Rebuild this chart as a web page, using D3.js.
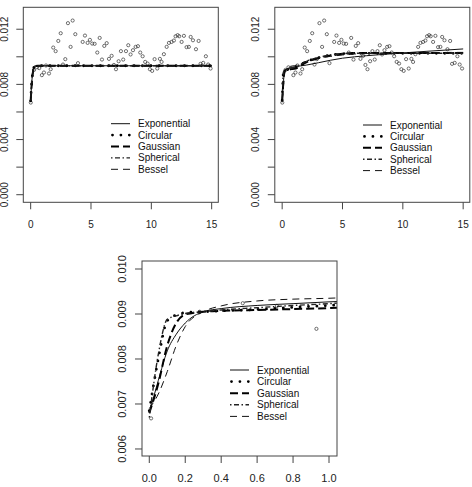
<!DOCTYPE html>
<html>
<head>
<meta charset="utf-8">
<script src="https://cdn.jsdelivr.net/npm/d3@7"></script>
<style>
  body { margin: 0; background: #fff; }
  svg { display: block; font-family: "Liberation Sans", Arial, sans-serif; }
</style>
</head>
<body>
<svg width="472" height="487"></svg>
<script>
// empirical semivariogram (lag distance, semivariance)
var lagDist = [0.01, 0.28, 0.52, 0.71, 0.93, 1.10, 1.27, 1.52, 1.66, 1.87,
  2.07, 2.29, 2.49, 2.68, 2.87, 3.09, 3.31, 3.48, 3.70, 3.92,
  4.31, 4.50, 4.72, 4.91, 5.10, 5.30, 5.52, 5.72, 5.91, 6.10,
  6.30, 6.49, 6.71, 6.90, 7.07, 7.29, 7.48, 7.67, 7.90, 8.09,
  8.28, 8.48, 8.70, 8.89, 9.08, 9.28, 9.49, 9.69, 9.88, 10.07,
  10.27, 10.49, 10.71, 10.85, 11.04, 11.27, 11.46, 11.68, 11.87, 12.01,
  12.18, 12.31, 12.51, 12.70, 12.92, 13.11, 13.26, 13.45, 13.70, 13.92,
  14.08, 14.30, 14.52, 14.71, 14.91];
var gammaObs = [0.00668, 0.00905, 0.00924, 0.00918, 0.00867, 0.00886, 0.00937, 0.00879, 0.00910, 0.01067,
  0.01041, 0.01115, 0.01171, 0.00944, 0.00983, 0.01244, 0.01072, 0.01263, 0.01164, 0.00954,
  0.01108, 0.01154, 0.01101, 0.01123, 0.01096, 0.01094, 0.01031, 0.01137, 0.00980, 0.01079,
  0.01099, 0.00985, 0.01007, 0.00941, 0.00910, 0.00968, 0.01041, 0.00980, 0.01041, 0.01084,
  0.01017, 0.01048, 0.01072, 0.01077, 0.01031, 0.01004, 0.00963, 0.00951, 0.00910, 0.00898,
  0.00983, 0.00915, 0.00985, 0.00963, 0.01019, 0.01072, 0.01101, 0.01108, 0.01118, 0.01149,
  0.01157, 0.01149, 0.01108, 0.01152, 0.01070, 0.01072, 0.01144, 0.01120, 0.01055, 0.01115,
  0.00949, 0.00956, 0.01004, 0.00944, 0.00915];

var modelNames = ["Exponential", "Circular", "Gaussian", "Spherical", "Bessel"];

// fitted models, first fit (top left)
var fitDistA = [0, 0.1, 0.2, 0.3, 0.4, 0.6, 15];
var expA = [0.00680, 0.00825, 0.00898, 0.00926, 0.00933, 0.00935, 0.00935];
var cirA = [0.00680, 0.00830, 0.00902, 0.00928, 0.00934, 0.00935, 0.00935];
var gauA = [0.00680, 0.00815, 0.00895, 0.00925, 0.00933, 0.00935, 0.00935];
var sphA = [0.00680, 0.00832, 0.00903, 0.00929, 0.00934, 0.00935, 0.00935];
var besA = [0.00680, 0.00820, 0.00896, 0.00926, 0.00933, 0.00935, 0.00935];

// fitted models, second fit (top right, zoomed below)
var fitDistB = [0, 0.05, 0.1, 0.15, 0.2, 0.3, 0.4, 0.6, 0.8, 1.0, 2, 3, 4, 5, 6, 8, 10, 12, 15];
var expB = [0.00680, 0.00752, 0.00818, 0.00855, 0.00880, 0.00905, 0.00912, 0.00919, 0.00923, 0.00927,
  0.00940, 0.00957, 0.00975, 0.00990, 0.01000, 0.01015, 0.01028, 0.01040, 0.01057];
var cirB = [0.00685, 0.00800, 0.00885, 0.00898, 0.00903, 0.00905, 0.00907, 0.00910, 0.00915, 0.00919,
  0.00965, 0.00993, 0.01012, 0.01022, 0.01025, 0.01025, 0.01025, 0.01025, 0.01025];
var gauB = [0.00680, 0.00745, 0.00830, 0.00880, 0.00899, 0.00905, 0.00907, 0.00909, 0.00911, 0.00913,
  0.00960, 0.00990, 0.01010, 0.01022, 0.01027, 0.01028, 0.01028, 0.01028, 0.01028];
var sphB = [0.00670, 0.00810, 0.00888, 0.00896, 0.00901, 0.00905, 0.00909, 0.00914, 0.00919, 0.00923,
  0.00968, 0.00996, 0.01013, 0.01023, 0.01026, 0.01026, 0.01026, 0.01026, 0.01026];
var besB = [0.00690, 0.00722, 0.00772, 0.00830, 0.00872, 0.00905, 0.00918, 0.00929, 0.00933, 0.00935,
  0.00968, 0.00990, 0.01003, 0.01013, 0.01020, 0.01026, 0.01029, 0.01031, 0.01032];

var xTicksTop = [0, 5, 10, 15];
var yTicksTop = [0, 0.002, 0.004, 0.006, 0.008, 0.010, 0.012];
var yLabelsTop = [0, 0.004, 0.008, 0.012];
var xTicksBottom = [0, 0.2, 0.4, 0.6, 0.8, 1.0];
var yTicksBottom = [0.006, 0.007, 0.008, 0.009, 0.010];

// line style per model
var styles = [
  { dash: null, width: 1, color: "#111", cap: "butt" },
  { dash: "0.01,8.4", width: 2.8, color: "#000", cap: "round" },
  { dash: "8,4", width: 2, color: "#000", cap: "butt" },
  { dash: "1.5,2.5,5,2.5", width: 1.4, color: "#222", cap: "butt" },
  { dash: "7,5", width: 1, color: "#111", cap: "butt" }
];

var svg = d3.select("svg");

function drawPanel(p, idx) {
  var x = d3.scaleLinear().domain(p.xDomain).range([p.left, p.left + p.w]);
  var y = d3.scaleLinear().domain(p.yDomain).range([p.top + p.h, p.top]);
  var g = svg.append("g");

  g.append("clipPath").attr("id", "clip" + idx)
    .append("rect")
    .attr("x", p.left).attr("y", p.top).attr("width", p.w).attr("height", p.h);

  var plot = g.append("g").attr("clip-path", "url(#clip" + idx + ")");

  // points
  plot.selectAll("circle")
    .data(d3.range(lagDist.length))
    .enter().append("circle")
    .attr("cx", function(i) { return x(lagDist[i]); })
    .attr("cy", function(i) { return y(gammaObs[i]); })
    .attr("r", 1.6)
    .attr("fill", "none")
    .attr("stroke", "#333")
    .attr("stroke-width", 0.7);

  // fitted lines
  p.fits.forEach(function(vals, m) {
    var line = d3.line()
      .x(function(d, i) { return x(p.fitDist[i]); })
      .y(function(d) { return y(d); })
      .curve(d3.curveMonotoneX);
    plot.append("path")
      .attr("d", line(vals))
      .attr("fill", "none")
      .attr("stroke", styles[m].color)
      .attr("stroke-width", styles[m].width)
      .attr("stroke-dasharray", styles[m].dash)
      .attr("stroke-linecap", styles[m].cap);
  });

  // box
  g.append("rect")
    .attr("x", p.left).attr("y", p.top).attr("width", p.w).attr("height", p.h)
    .attr("fill", "none").attr("stroke", "#444").attr("stroke-width", 1);

  // x ticks
  g.selectAll(".xt").data(p.xTicks).enter().append("line")
    .attr("x1", function(d) { return x(d); }).attr("x2", function(d) { return x(d); })
    .attr("y1", p.top + p.h).attr("y2", p.top + p.h + 7)
    .attr("stroke", "#444");
  g.selectAll(".xl").data(p.xTicks).enter().append("text")
    .attr("x", function(d) { return x(d); })
    .attr("y", p.top + p.h + 22)
    .attr("text-anchor", "middle")
    .attr("dominant-baseline", "central")
    .attr("font-size", p.tickFont)
    .attr("fill", "#222")
    .text(p.xFormat);

  // y ticks
  g.selectAll(".yt").data(p.yTicks).enter().append("line")
    .attr("x1", p.left - 7).attr("x2", p.left)
    .attr("y1", function(d) { return y(d); }).attr("y2", function(d) { return y(d); })
    .attr("stroke", "#444");
  g.selectAll(".yl").data(p.yLabels).enter().append("text")
    .attr("transform", function(d) {
      return "translate(" + (p.left - p.yLabOff) + "," + y(d) + ") rotate(-90)";
    })
    .attr("text-anchor", "middle")
    .attr("dominant-baseline", "central")
    .attr("font-size", p.tickFont)
    .attr("fill", "#222")
    .text(d3.format(".3f"));

  // legend
  var leg = g.append("g");
  modelNames.forEach(function(name, m) {
    var ly = p.legY + m * p.legStep;
    leg.append("line")
      .attr("x1", p.legX + (m === 1 ? 1.5 : 0)).attr("x2", p.legX + 19)
      .attr("y1", ly).attr("y2", ly)
      .attr("stroke", styles[m].color)
      .attr("stroke-width", styles[m].width)
      .attr("stroke-dasharray", styles[m].dash)
      .attr("stroke-linecap", styles[m].cap);
    leg.append("text")
      .attr("x", p.legX + 27).attr("y", ly)
      .attr("dominant-baseline", "central")
      .attr("font-size", 10)
      .attr("fill", "#111")
      .text(name);
  });
}

var panels = [
  { left: 23.3, top: 7.3, w: 195, h: 195, xDomain: [-0.61, 15.55], yDomain: [-0.00055, 0.01359],
    xTicks: xTicksTop, yTicks: yTicksTop, yLabels: yLabelsTop, xFormat: d3.format("d"),
    fitDist: fitDistA, fits: [expA, cirA, gauA, sphA, besA],
    tickFont: 10, yLabOff: 19, legX: 111, legY: 123.7, legStep: 11.4 },
  { left: 274.8, top: 7.3, w: 195, h: 195, xDomain: [-0.61, 15.55], yDomain: [-0.00055, 0.01359],
    xTicks: xTicksTop, yTicks: yTicksTop, yLabels: yLabelsTop, xFormat: d3.format("d"),
    fitDist: fitDistB, fits: [expB, cirB, gauB, sphB, besB],
    tickFont: 10, yLabOff: 19, legX: 363, legY: 125, legStep: 11.4 },
  { left: 142, top: 261, w: 195, h: 195, xDomain: [-0.0406, 1.0445], yDomain: [0.005844, 0.010178],
    xTicks: xTicksBottom, yTicks: yTicksBottom, yLabels: yTicksBottom, xFormat: d3.format(".1f"),
    fitDist: fitDistB, fits: [expB, cirB, gauB, sphB, besB],
    tickFont: 11, yLabOff: 20.3, legX: 230, legY: 370, legStep: 11.6 }
];

panels.forEach(drawPanel);
</script>
</body>
</html>
